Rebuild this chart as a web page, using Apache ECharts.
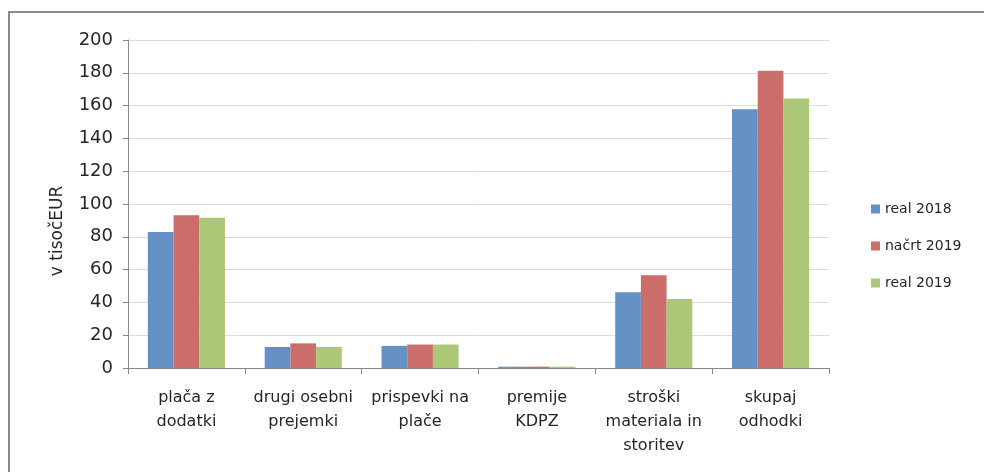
<!DOCTYPE html>
<html>
<head>
<meta charset="utf-8">
<script src="https://cdn.jsdelivr.net/npm/echarts@6/dist/echarts.min.js"></script>
<style>
  html, body { margin: 0; padding: 0; background: #fff; }
  #chart { width: 984px; height: 472px; }
</style>
</head>
<body>
<div id="chart"></div>
<script>
var categories = ['plača z\ndodatki', 'drugi osebni\nprejemki', 'prispevki na\nplače', 'premije\nKDPZ', 'stroški\nmateriala in\nstoritev', 'skupaj\nodhodki'];
var real2018 = [83, 12.8, 13.5, 0.8, 46.2, 157.8];
var nacrt2019 = [93.2, 15.0, 14.3, 0.8, 56.5, 181.2];
var real2019 = [91.6, 12.8, 14.3, 0.8, 42, 164.3];
var seriesNames = ['real 2018', 'načrt 2019', 'real 2019'];
var yTitle = 'v tisočEUR';
var colors = ['#6592c6', '#cb6d6a', '#adc778'];

var font = '"DejaVu Sans", "Noto Sans", sans-serif';
var myChart = echarts.init(document.getElementById('chart'));

var option = {
    animation: false,
    color: colors,
    textStyle: { fontFamily: font },
    graphic: [{
        type: 'rect',
        shape: { x: 9, y: 12, width: 1000, height: 500 },
        style: { fill: 'none', stroke: '#8a8a8a', lineWidth: 2 }
    }, {
        // y axis title, placed like the original (below the plot's middle)
        type: 'text',
        x: 58,
        y: 231,
        rotation: Math.PI / 2,
        style: {
            text: yTitle,
            fontSize: 17,
            fontFamily: font,
            fill: '#262626',
            align: 'center',
            verticalAlign: 'middle'
        }
    }],
    grid: { left: 128, right: 155, top: 40, bottom: 104 },
    legend: {
        orient: 'vertical',
        left: 866,
        top: 197,
        itemWidth: 9,
        itemHeight: 9,
        itemGap: 23,
        icon: 'rect',
        textStyle: { fontSize: 14, color: '#262626', fontFamily: font },
        data: seriesNames
    },
    xAxis: {
        type: 'category',
        data: categories,
        axisLine: { lineStyle: { color: '#888' } },
        axisTick: { show: true, length: 6, lineStyle: { color: '#888' } },
        axisLabel: { fontSize: 16, color: '#262626', lineHeight: 24, margin: 18, interval: 0, fontFamily: font }
    },
    yAxis: {
        type: 'value',
        min: 0,
        max: 200,
        interval: 20,
        axisLine: { show: true, lineStyle: { color: '#888' } },
        axisTick: { show: true, length: 5, inside: false, lineStyle: { color: '#888' } },
        axisLabel: { fontSize: 18, color: '#262626', margin: 15, fontFamily: font },
        splitLine: { lineStyle: { color: '#dcdcdc' } }
    },
    series: [
        { name: seriesNames[0], type: 'bar', data: real2018, barGap: '0%', barCategoryGap: '34%' },
        { name: seriesNames[1], type: 'bar', data: nacrt2019, barGap: '0%', barCategoryGap: '34%' },
        { name: seriesNames[2], type: 'bar', data: real2019, barGap: '0%', barCategoryGap: '34%' }
    ]
};
myChart.setOption(option);
</script>
</body>
</html>
